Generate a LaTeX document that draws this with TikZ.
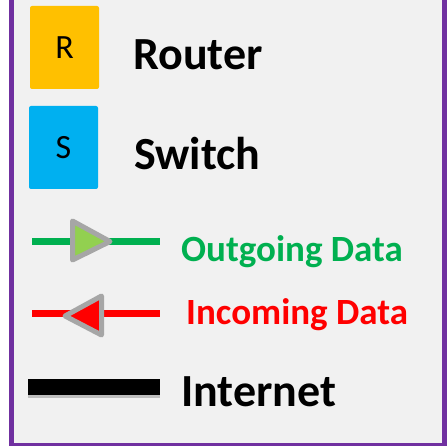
\documentclass[tikz,border=0pt]{standalone}
\usepackage{fontspec}
\setmainfont{Carlito}
\newfontfamily\keybold{Carlito Bold}
\usetikzlibrary{positioning}
\definecolor{framecol}{RGB}{112,48,160}
\definecolor{panel}{RGB}{241,241,241}
\definecolor{routercol}{RGB}{255,192,0}
\definecolor{switchcol}{RGB}{0,176,240}
\definecolor{outgreen}{RGB}{0,176,80}
\definecolor{lightgreen}{RGB}{146,208,80}
\definecolor{tipgray}{RGB}{166,166,166}

\tikzset{
  devbox/.style={rounded corners=2pt},
  devletter/.style={inner sep=0pt, font=\fontsize{34}{34}\selectfont},
  keytext/.style={anchor=base west, inner sep=0pt, font=\keybold\fontsize{46}{46}\selectfont},
  datatext/.style={anchor=base west, inner sep=0pt, font=\keybold\fontsize{37}{37}\selectfont},
  dataline/.style={line width=7pt},
  tiptri/.style={draw=tipgray, line width=5pt, line join=round},
}

\begin{document}
\begin{tikzpicture}[x=1pt,y=-1pt]
  \useasboundingbox (0,0) rectangle (448,446);
  \clip (0,0) rectangle (448,446);
  % frame
  \fill[panel] (11.7,-20) rectangle (444.3,445.6);
  \draw[framecol, line width=4.7pt] (11.7,-20) rectangle (444.3,445.6);

  % devices
  \fill[routercol, devbox] (30,6) rectangle (99,89);
  \fill[switchcol, devbox] (29,106) rectangle (98,189);
  \node[devletter] (router) at (64.5,47.5) {R};
  \node[devletter] (switch) at (63.5,147.5) {S};
  \node[keytext] (routertxt) at (133,70) {Router};
  \node[keytext] (switchtxt) at (134,170) {Switch};

  % outgoing
  \coordinate (og-a) at (32,242);
  \coordinate (og-b) at (160,242);
  \draw[dataline, outgreen] (og-a) -- (og-b);
  \draw[tiptri, fill=lightgreen] (72.5,221) -- (110,241.5) -- (72.5,260) -- cycle;
  \node[datatext, text=outgreen] (outtxt) at (181,262) {Outgoing Data};

  % incoming
  \coordinate (in-a) at (32,314);
  \coordinate (in-b) at (160,314);
  \draw[dataline, red] (in-a) -- (in-b);
  \draw[tiptri, fill=red] (101.5,296) -- (65,316) -- (101.5,335) -- cycle;
  \node[datatext, text=red] (intxt) at (186,325) {Incoming Data};

  % internet
  \fill[black!45, opacity=0.5] (28,381) rectangle (160,398);
  \fill[black] (28,379) rectangle (160,395);
  \node[keytext] (nettxt) at (181,407) {Internet};
\end{tikzpicture}
\end{document}
